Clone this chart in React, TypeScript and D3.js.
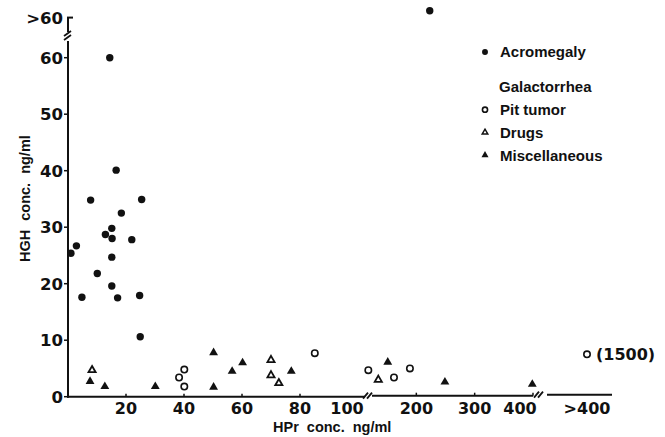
import * as d3 from "d3";

const width = 665;
const height = 437;

// HPr (x) / HGH (y) in ng/ml
const acromegalyHPr = [1.0, 2.9, 4.8, 7.8, 10.1, 12.9, 14.4, 15.1, 15.2, 15.1, 15.1, 16.6, 17.1, 18.4, 22.0, 24.7, 24.9, 25.4, 223];
const acromegalyHGH = [25.4, 26.7, 17.6, 34.8, 21.8, 28.7, 60.0, 29.8, 28.0, 24.7, 19.6, 40.1, 17.5, 32.5, 27.8, 17.9, 10.6, 34.9, 68.3];

const pitTumorHPr = [38.3, 40.1, 40.1, 85.1, 117.7, 161.7, 189, 1500];
const pitTumorHGH = [3.4, 4.8, 1.8, 7.7, 4.7, 3.4, 5.0, 7.5];

const drugsHPr = [8.3, 70, 70, 72.7, 134.8];
const drugsHGH = [4.7, 6.5, 3.8, 2.4, 3.0];

const miscHPr = [7.6, 12.7, 30.1, 50.2, 50.2, 56.6, 60.2, 77, 151, 249, 398.8];
const miscHGH = [2.7, 1.8, 1.8, 7.8, 1.7, 4.5, 6.0, 4.5, 6.1, 2.6, 2.2];

const yTicks = [0, 10, 20, 30, 40, 50, 60];
const yOverTick = 67.1; // the ">60" zone
const xTicksLow = [20, 40, 60, 80];
const xTicksHigh = [200, 300, 400];
const xOverTick = 1500; // the ">400" zone

const legendItems = [
  { label: "Acromegaly", kind: "acro" },
  { label: "Pit tumor", kind: "pit" },
  { label: "Drugs", kind: "drugs" },
  { label: "Miscellaneous", kind: "misc" },
];

const numFont = "'DejaVu Sans', sans-serif";
const textFont = "'Liberation Sans', Arial, sans-serif";
const ink = "#111";

const triFilled = d3.symbol(d3.symbolTriangle).size(34)();
const triOpen = d3.symbol(d3.symbolTriangle).size(22)();

const Marker = ({ kind, x, y, small }: { kind: string; x: number; y: number; small?: boolean }) => {
  const k = small ? 0.8 : 1;
  if (kind === "acro") return <circle cx={x} cy={y} r={3.7 * k} fill={ink} />;
  if (kind === "pit")
    return <circle cx={x} cy={y} r={3.2 * k} fill="white" stroke={ink} strokeWidth={1.6} />;
  if (kind === "drugs")
    return (
      <path d={triOpen} transform={`translate(${x},${y}) scale(${k})`} fill="white" stroke={ink} strokeWidth={1.8} />
    );
  return <path d={triFilled} transform={`translate(${x},${y}) scale(${k})`} fill={ink} />;
};

const App = () => {
  // broken x axis: 0-100, 100-400, then a ">400" zone
  const xScale = d3.scaleLinear().domain([0, 100, 400, 1500]).range([68, 358, 533, 587]);
  const yScale = d3.scaleLinear().domain([0, 60]).range([396.7, 57.7]);

  const x0 = xScale(0);
  const y0 = yScale(0);

  const series = [
    { kind: "acro", xs: acromegalyHPr, ys: acromegalyHGH },
    { kind: "pit", xs: pitTumorHPr, ys: pitTumorHGH },
    { kind: "drugs", xs: drugsHPr, ys: drugsHGH },
    { kind: "misc", xs: miscHPr, ys: miscHGH },
  ];

  const breakMark = (cx: number, cy: number, vertical: boolean) => {
    const d = vertical
      ? [[-4, 2, 3, -3], [-4, 6, 3, 1]]
      : [[-5, 3, 0, -3], [-1, 3, 4, -3]];
    return d.map((s, i) => (
      <line key={i} x1={cx + s[0]} y1={cy + s[1]} x2={cx + s[2]} y2={cy + s[3]} stroke={ink} strokeWidth={1.8} />
    ));
  };

  return (
    <svg width={width} height={height} style={{ position: "absolute", left: 0, top: 0, background: "white" }}>
      {/* y axis */}
      <line x1={x0} y1={y0 + 1} x2={x0} y2={41} stroke={ink} strokeWidth={2} />
      {breakMark(x0, 34, true)}
      <line x1={x0} y1={32} x2={x0} y2={yScale(yOverTick)} stroke={ink} strokeWidth={2} />
      <line x1={x0 - 1} y1={yScale(yOverTick)} x2={x0 + 5} y2={yScale(yOverTick)} stroke={ink} strokeWidth={2} />
      {yTicks.map((t) => (
        <g key={t}>
          <line x1={x0 - 4} y1={yScale(t)} x2={x0} y2={yScale(t)} stroke={ink} strokeWidth={1.5} />
          <text x={x0 - 5} y={yScale(t)} dy="0.36em" textAnchor="end" fontFamily={numFont} fontWeight="bold" fontSize={16.5} fill={ink}>
            {t}
          </text>
        </g>
      ))}
      <text x={x0 - 5} y={yScale(yOverTick)} dy="0.36em" textAnchor="end" fontFamily={numFont} fontWeight="bold" fontSize={16.5} fill={ink}>
        {">60"}
      </text>

      {/* x axis, three pieces */}
      <line x1={x0 - 1} y1={y0} x2={365} y2={y0} stroke={ink} strokeWidth={2} />
      {breakMark(368, y0 - 1, false)}
      <line x1={372} y1={y0 - 1} x2={533} y2={y0 - 1} stroke={ink} strokeWidth={2} />
      {breakMark(539, y0 - 2, false)}
      <line x1={547} y1={y0 - 2} x2={612} y2={y0 - 2} stroke={ink} strokeWidth={2} />
      {xTicksLow.map((t) => (
        <line key={t} x1={xScale(t)} y1={y0} x2={xScale(t)} y2={y0 - 3} stroke={ink} strokeWidth={1.5} />
      ))}
      {xTicksHigh.map((t) => (
        <line key={t} x1={xScale(t)} y1={y0 - 1} x2={xScale(t)} y2={y0 - 4} stroke={ink} strokeWidth={1.5} />
      ))}
      {[...xTicksLow, 100, ...xTicksHigh].map((t) => (
        <text
          key={t}
          x={xScale(t) + (t === 100 ? -11 : t === 400 ? -13 : 0)}
          y={408}
          dy="0.36em"
          textAnchor="middle"
          fontFamily={numFont}
          fontWeight="bold"
          fontSize={16}
          fill={ink}
        >
          {t}
        </text>
      ))}
      <text x={xScale(xOverTick)} y={408} dy="0.36em" textAnchor="middle" fontFamily={numFont} fontWeight="bold" fontSize={16} fill={ink}>
        {">400"}
      </text>

      {/* axis titles */}
      <text x={273} y={432} fontFamily={textFont} fontWeight="bold" fontSize={14.5} wordSpacing={4} fill={ink}>
        HPr conc. ng/ml
      </text>
      <text
        transform="translate(30,262) rotate(-90)"
        fontFamily={textFont}
        fontWeight="bold"
        fontSize={14.5}
        wordSpacing={5}
        fill={ink}
      >
        HGH conc. ng/ml
      </text>

      {/* points */}
      {series.map((s) =>
        s.xs.map((v, i) => <Marker key={s.kind + i} kind={s.kind} x={xScale(v)} y={yScale(s.ys[i])} />)
      )}

      {/* (1500) note */}
      <text x={xScale(xOverTick) + 9} y={yScale(pitTumorHGH[7])} dy="0.36em" fontFamily={numFont} fontWeight="bold" fontSize={16} fill={ink}>
        (1500)
      </text>

      {/* legend */}
      {legendItems.map((d, i) => {
        const ly = i === 0 ? 52 : 87 + i * 22.7;
        return (
          <g key={d.label}>
            <Marker kind={d.kind} x={485} y={ly} small />
            <text x={500} y={ly} dy="0.36em" fontFamily={textFont} fontWeight="bold" fontSize={15} fill={ink}>
              {d.label}
            </text>
          </g>
        );
      })}
      <text x={499} y={87} dy="0.36em" fontFamily={textFont} fontWeight="bold" fontSize={15} fill={ink}>
        Galactorrhea
      </text>
    </svg>
  );
};

export default App;
